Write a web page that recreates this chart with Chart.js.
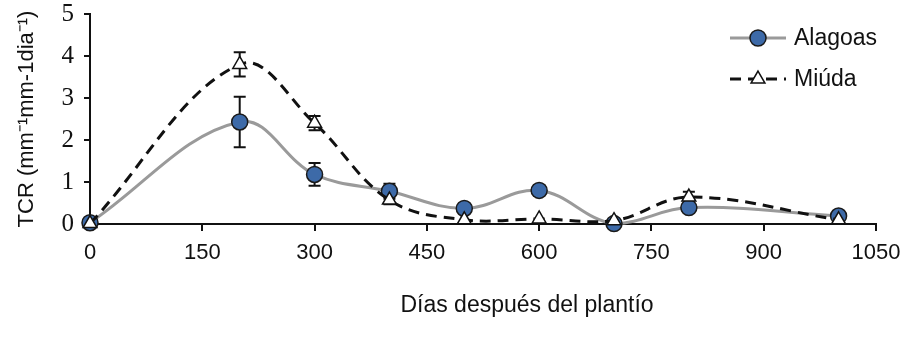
<!DOCTYPE html>
<html>
<head>
<meta charset="utf-8">
<script src="https://cdn.jsdelivr.net/npm/chart.js@4.4.0/dist/chart.umd.min.js"></script>
<style>
body { margin: 0; background: #fff; }
#wrap { width: 900px; height: 337px; }
</style>
</head>
<body>
<div id="wrap"><canvas id="tcrChart"></canvas></div>
<script>
// data
var days = [0, 200, 300, 400, 500, 600, 700, 800, 1000];
var alagoas = [0.03, 2.43, 1.18, 0.78, 0.37, 0.8, 0.01, 0.39, 0.19];
var alagoasErr = [0, 0.6, 0.27, 0.18, 0.04, 0.13, 0, 0.04, 0.04];
var miuda = [0.01, 3.8, 2.4, 0.57, 0.1, 0.12, 0.08, 0.64, 0.1];
var miudaErr = [0, 0.29, 0.17, 0.1, 0, 0, 0, 0.13, 0];
var xTicks = [0, 150, 300, 450, 600, 750, 900, 1050];
var yTicks = [0, 1, 2, 3, 4, 5];

var xTitle = 'Días después del plantío';
var yTitle = 'TCR (mm\u207B\u00B9mm-1dia\u207B\u00B9)';

function toPoints(xs, ys, errs) {
	var pts = [];
	for (var i = 0; i < xs.length; i++) {
		pts.push({x: xs[i], y: ys[i], err: errs[i]});
	}
	return pts;
}

// error bars, drawn under the markers
var errorBars = {
	id: 'errorBars',
	beforeDatasetsDraw: function(chart) {
		var ctx = chart.ctx;
		var xs = chart.scales.x, ys = chart.scales.y;
		ctx.save();
		ctx.strokeStyle = '#111';
		ctx.lineWidth = 2;
		ctx.setLineDash([]);
		chart.data.datasets.forEach(function(ds) {
			ds.data.forEach(function(p) {
				if (!p.err) return;
				var px = xs.getPixelForValue(p.x);
				var top = ys.getPixelForValue(p.y + p.err);
				var bot = ys.getPixelForValue(p.y - p.err);
				ctx.beginPath();
				ctx.moveTo(px, top); ctx.lineTo(px, bot);
				ctx.moveTo(px - 6, top); ctx.lineTo(px + 6, top);
				ctx.moveTo(px - 6, bot); ctx.lineTo(px + 6, bot);
				ctx.stroke();
			});
		});
		ctx.restore();
	}
};

// legend with line + marker, like the original
var lineLegend = {
	id: 'lineLegend',
	afterDraw: function(chart) {
		var ctx = chart.ctx;
		var x0 = 730, y0 = 38, gap = 41;
		ctx.save();
		chart.data.datasets.forEach(function(ds, i) {
			var y = y0 + i * gap;
			ctx.strokeStyle = ds.borderColor;
			ctx.lineWidth = ds.borderWidth;
			ctx.setLineDash(ds.borderDash || []);
			ctx.beginPath();
			ctx.moveTo(x0, y); ctx.lineTo(x0 + 56, y);
			ctx.stroke();
			ctx.setLineDash([]);
			ctx.fillStyle = ds.pointBackgroundColor;
			ctx.strokeStyle = ds.pointBorderColor;
			ctx.lineWidth = ds.pointBorderWidth;
			Chart.helpers.drawPoint(ctx, {pointStyle: ds.pointStyle, radius: ds.pointRadius, borderWidth: ds.pointBorderWidth, rotation: 0}, x0 + 28, y);
			ctx.fillStyle = '#111';
			ctx.font = '23px Liberation Sans, Arial, sans-serif';
			ctx.textAlign = 'left';
			ctx.textBaseline = 'middle';
			ctx.fillText(ds.label, x0 + 64, y + 1);
		});
		ctx.restore();
	}
};

// x axis title sits right of centre in the original
var bottomTitle = {
	id: 'bottomTitle',
	afterDraw: function(chart) {
		var ctx = chart.ctx;
		ctx.save();
		ctx.fillStyle = '#111';
		ctx.font = '23px Liberation Sans, Arial, sans-serif';
		ctx.textAlign = 'center';
		ctx.textBaseline = 'middle';
		ctx.fillText(xTitle, 527, 306);
		ctx.restore();
	}
};

var ctx = document.getElementById('tcrChart').getContext('2d');

var tcrChart = new Chart(ctx, {
	type: 'line',
	data: {
		datasets: [
			{
				label: 'Alagoas',
				data: toPoints(days, alagoas, alagoasErr),
				borderColor: '#9a9a9a',
				borderWidth: 3,
				tension: 0.38,
				clip: false,
				pointStyle: 'circle',
				pointRadius: 8,
				pointBackgroundColor: '#3d6aa8',
				pointBorderColor: '#1a1a1a',
				pointBorderWidth: 1.5,
				order: 1
			},
			{
				label: 'Miúda',
				data: toPoints(days, miuda, miudaErr),
				borderColor: '#111',
				borderWidth: 3,
				borderDash: [11, 7],
				tension: 0.38,
				clip: false,
				pointStyle: 'triangle',
				pointRadius: 8,
				pointBackgroundColor: '#fff',
				pointBorderColor: '#111',
				pointBorderWidth: 1.5,
				order: 0
			}
		]
	},
	options: {
		responsive: true,
		maintainAspectRatio: false,
		animation: false,
		layout: { padding: 0 },
		plugins: {
			legend: { display: false },
			tooltip: { enabled: false }
		},
		scales: {
			x: {
				type: 'linear',
				min: 0,
				max: 1050,
				afterBuildTicks: function(s) { s.ticks = xTicks.map(function(v) { return {value: v}; }); },
				afterFit: function(s) { s.height = 113; s.paddingRight = 24; },
				border: { color: '#111', width: 2 },
				grid: { display: true, drawOnChartArea: false, color: '#111', lineWidth: 2, tickLength: 7 },
				ticks: {
					color: '#111',
					padding: 9,
					maxRotation: 0,
					callback: function(v) { return String(v); },
					font: { family: 'Liberation Sans Narrow, Liberation Sans, Arial, sans-serif', size: 22 }
				}
			},
			y: {
				min: 0,
				max: 5,
				afterBuildTicks: function(s) { s.ticks = yTicks.map(function(v) { return {value: v}; }); },
				afterFit: function(s) { s.width = 90; s.paddingTop = 14; },
				border: { color: '#111', width: 2 },
				grid: { display: true, drawOnChartArea: false, color: '#111', lineWidth: 2, tickLength: 6 },
				ticks: {
					color: '#111',
					padding: 10,
					callback: function(v) { return String(v); },
					font: { family: 'Liberation Serif, Times New Roman, serif', size: 25 }
				},
				title: {
					display: true,
					text: yTitle,
					color: '#111',
					padding: { top: 14, bottom: 0 },
					font: { family: 'Liberation Sans, Arial, sans-serif', size: 22 }
				}
			}
		}
	},
	plugins: [errorBars, lineLegend, bottomTitle]
});
</script>
</body>
</html>
